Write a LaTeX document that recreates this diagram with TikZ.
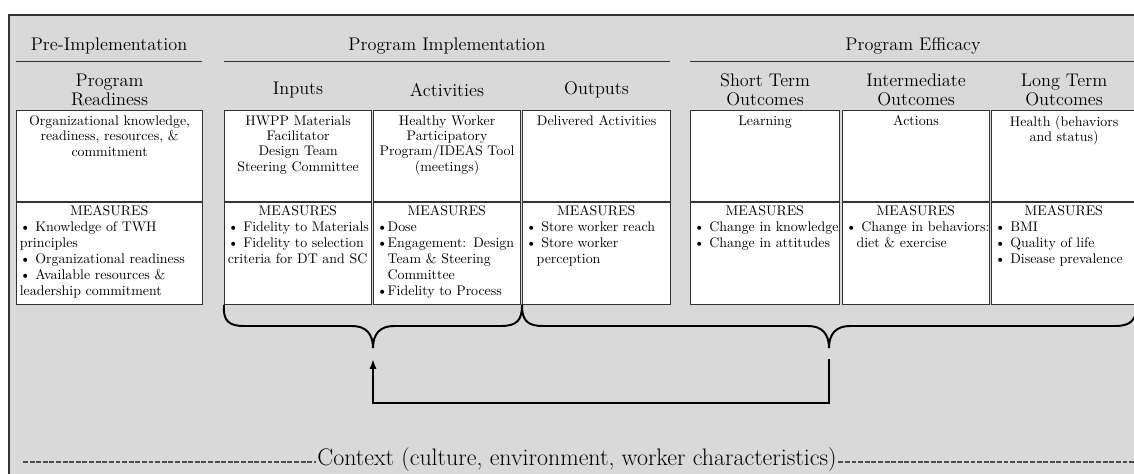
\documentclass[tikz,border=0pt]{standalone}
\usepackage{tikz}
\usetikzlibrary{positioning, arrows.meta}
\colorlet{panel color}{black!15}
\colorlet{rule color}{black!80}
\tikzset{panel/.style={fill=panel color, draw=rule color, line width=0.8pt}}
\tikzset{rule/.style={draw=rule color, line width=0.8pt}}
\tikzset{phase/.style={font=\fontsize{13}{14}\selectfont, minimum height=0.75cm, inner sep=0pt}}
\tikzset{stage/.style={font=\fontsize{13}{13.6}\selectfont, align=center, inner sep=0pt}}
\tikzset{cell/.style={draw=rule color, fill=white, line width=0.8pt, inner sep=0pt, anchor=north west}}
\tikzset{cell text/.style={font=\fontsize{9.9}{10.8}\selectfont, align=center, anchor=north, inner sep=2pt}}
\tikzset{measures/.style={font=\fontsize{9.9}{11.4}\selectfont, align=left, anchor=north west, inner xsep=2.5pt, inner ysep=2pt}}
\tikzset{brace/.style={line width=1.4pt, line cap=round}}
\tikzset{feedback/.style={line width=1.6pt, -{Latex[length=7pt, width=5pt]}}}
\tikzset{context line/.style={draw=black!70, line width=1.1pt, dash pattern=on 3.5pt off 1.2pt}}
\newcommand{\listindent}{\phantom{\textbullet}}

\begin{document}
\begin{tikzpicture}[x=0.025cm, y=-0.025cm]
    \clip (0, 0) rectangle (1134, 474);
    \draw[panel] (9, 15) rectangle (1200, 520);

    % phases
    \node[phase, minimum width=4.65cm] (preHead) at (109, 46) {Pre-Implementation};
    \node[phase, minimum width=11.15cm] (implHead) at (447, 46) {Program Implementation};
    \node[phase, minimum width=11.15cm] (effHead) at (913, 46) {Program Efficacy};
    \draw[rule] (preHead.south west) -- (preHead.south east);
    \draw[rule] (implHead.south west) -- (implHead.south east);
    \draw[rule] (effHead.south west) -- (effHead.south east);

    % cells, top row and measures row
    \node[cell, minimum width=4.65cm, minimum height=2.275cm] (readyTop) at (16, 110) {};
    \node[cell, minimum width=4.65cm, minimum height=2.55cm] (readyMeas) at (readyTop.south west) {};
    \node[cell, minimum width=3.675cm, minimum height=2.275cm] (inTop) at (224, 110) {};
    \node[cell, minimum width=3.675cm, minimum height=2.55cm] (inMeas) at (inTop.south west) {};
    \node[cell, minimum width=3.675cm, minimum height=2.275cm] (actTop) at (373, 110) {};
    \node[cell, minimum width=3.675cm, minimum height=2.55cm] (actMeas) at (actTop.south west) {};
    \node[cell, minimum width=3.7cm, minimum height=2.275cm] (outTop) at (522, 110) {};
    \node[cell, minimum width=3.7cm, minimum height=2.55cm] (outMeas) at (outTop.south west) {};
    \node[cell, minimum width=3.725cm, minimum height=2.275cm] (shortTop) at (690, 110) {};
    \node[cell, minimum width=3.725cm, minimum height=2.55cm] (shortMeas) at (shortTop.south west) {};
    \node[cell, minimum width=3.675cm, minimum height=2.275cm] (midTop) at (842, 110) {};
    \node[cell, minimum width=3.675cm, minimum height=2.55cm] (midMeas) at (midTop.south west) {};
    \node[cell, minimum width=3.625cm, minimum height=2.275cm] (longTop) at (991, 110) {};
    \node[cell, minimum width=3.625cm, minimum height=2.55cm] (longMeas) at (longTop.south west) {};

    % stage headings
    \node[stage, above=0.5cm of readyTop.north, anchor=center] (readyHead) {Program\\Readiness};
    \node[stage, above=0.5cm of inTop.north, anchor=center] (inHead) {Inputs};
    \node[stage, above=0.5cm of actTop.north, anchor=center] (actHead) {Activities};
    \node[stage, above=0.5cm of outTop.north, anchor=center] (outHead) {Outputs};
    \node[stage, above=0.5cm of shortTop.north, anchor=center] (shortHead) {Short Term\\Outcomes};
    \node[stage, above=0.5cm of midTop.north, anchor=center] (midHead) {Intermediate\\Outcomes};
    \node[stage, above=0.5cm of longTop.north, anchor=center] (longHead) {Long Term\\Outcomes};

    % what each stage holds
    \node[cell text, text width=4.45cm, below=2pt of readyTop.north] (readyText) {Organizational knowledge,\\readiness, resources, \&\\commitment};
    \node[cell text, text width=3.5cm, below=2pt of inTop.north] (inText) {HWPP Materials\\Facilitator\\Design Team\\Steering Committee};
    \node[cell text, text width=3.5cm, below=2pt of actTop.north] (actText) {Healthy Worker\\Participatory\\Program/IDEAS Tool\\(meetings)};
    \node[cell text, text width=3.5cm, below=2pt of outTop.north] (outText) {Delivered Activities};
    \node[cell text, text width=3.5cm, below=2pt of shortTop.north] (shortText) {Learning};
    \node[cell text, text width=3.5cm, below=2pt of midTop.north] (midText) {Actions};
    \node[cell text, text width=3.45cm, below=2pt of longTop.north] (longText) {Health (behaviors\\and status)};

    % measures
    \node[measures, text width=4.47cm] (readyList) at (readyMeas.north west) {\makebox[\linewidth]{MEASURES}\\
        \textbullet\ Knowledge of TWH\\principles\\\textbullet\ Organizational readiness\\\textbullet\ Available resources \&\\leadership commitment};
    \node[measures, text width=3.5cm] (inList) at (inMeas.north west) {\makebox[\linewidth]{MEASURES}\\
        \mbox{\textbullet\ Fidelity to Materials}\\\mbox{\textbullet\ Fidelity to selection}\\criteria for DT and SC};
    \node[measures, text width=3.5cm] (actList) at (actMeas.north west) {\makebox[\linewidth]{MEASURES}\\
        \textbullet Dose\\\mbox{\textbullet Engagement: Design}\\\listindent Team \& Steering\\\listindent Committee\\\textbullet Fidelity to Process};
    \node[measures, text width=3.52cm] (outList) at (outMeas.north west) {\makebox[\linewidth]{MEASURES}\\
        \textbullet\ Store worker reach\\\textbullet\ Store worker\\\listindent perception};
    \node[measures, text width=3.55cm] (shortList) at (shortMeas.north west) {\makebox[\linewidth]{MEASURES}\\
        \mbox{\textbullet\ Change in knowledge}\\\textbullet\ Change in attitudes};
    \node[measures, text width=3.5cm] (midList) at (midMeas.north west) {\makebox[\linewidth]{MEASURES}\\
        \mbox{\textbullet\ Change in behaviors:}\\\listindent diet \& exercise};
    \node[measures, text width=3.45cm] (longList) at (longMeas.north west) {\makebox[\linewidth]{MEASURES}\\
        \textbullet\ BMI\\\textbullet\ Quality of life\\\textbullet\ Disease prevalence};

    % braces under the columns
    \coordinate (tipImpl) at (373, 348);
    \coordinate (tipEff) at (829, 348);
    \draw[brace] (inMeas.south west) .. controls (223, 320) and (228, 326) .. (244, 326) -- (352, 326)
        .. controls (366, 326) and (373, 334) .. (tipImpl)
        .. controls (373, 334) and (380, 326) .. (394, 326) -- (501, 326)
        .. controls (517, 326) and (522, 320) .. (outMeas.south west);
    \draw[brace] (outMeas.south west) .. controls (522, 320) and (527, 326) .. (543, 326) -- (808, 326)
        .. controls (822, 326) and (829, 334) .. (tipEff)
        .. controls (829, 334) and (836, 326) .. (850, 326) -- (1115, 326)
        .. controls (1131, 326) and (1136, 320) .. (longMeas.south east);

    % loop back
    \coordinate (fbFrom) at (829, 359);
    \coordinate (fbCorner) at (829, 403);
    \coordinate (fbTo) at (373, 359);
    \draw[feedback] (fbFrom) -- (fbCorner) -| (fbTo);

    % context
    \node[font=\fontsize{17}{19}\selectfont, inner sep=1pt] (ctx) at (577, 460) {Context (culture, environment, worker characteristics)};
    \coordinate (ctxLeft) at (23, 462);
    \coordinate (ctxRight) at (1134, 462);
    \draw[context line] (ctxLeft) -- (ctxLeft -| ctx.west);
    \draw[context line] (ctxRight -| ctx.east) -- (ctxRight);
\end{tikzpicture}
\end{document}
